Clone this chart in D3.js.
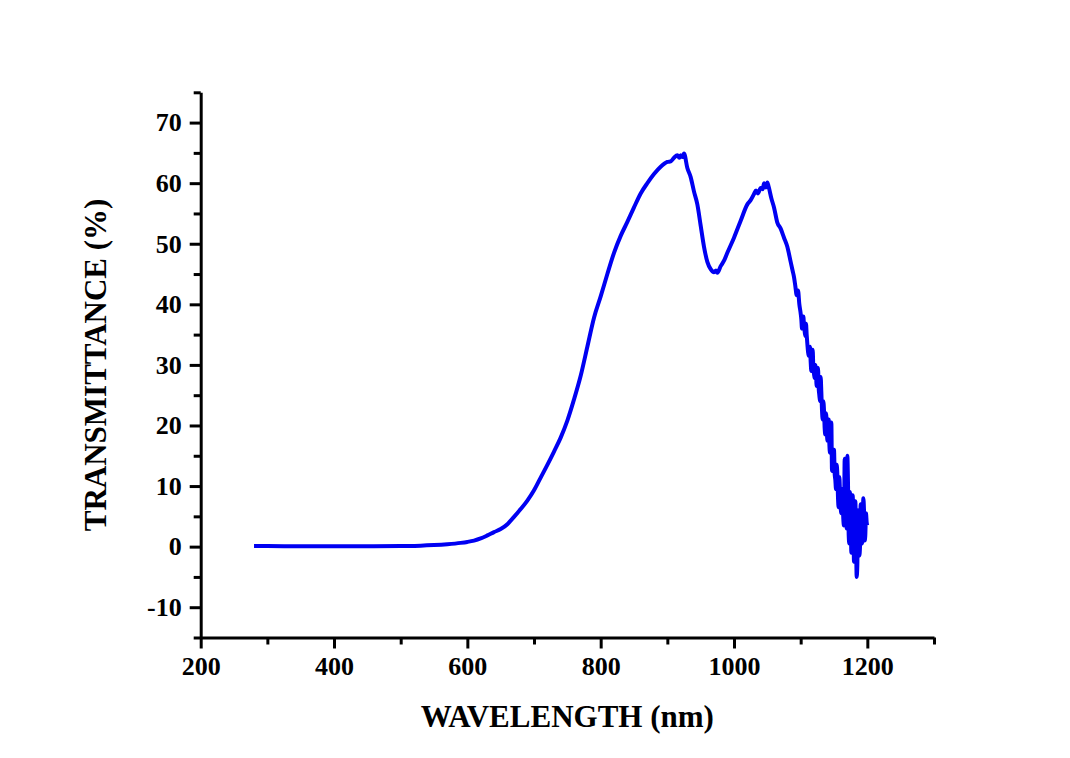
<!DOCTYPE html>
<html>
<head>
<meta charset="utf-8">
<script src="https://cdn.jsdelivr.net/npm/d3@7"></script>
<style>
  body { margin: 0; background: #fff; }
  svg { display: block; }
  text { font-family: "Liberation Serif", "Times New Roman", serif; font-weight: bold; fill: #000; }
</style>
</head>
<body>
<div id="chart"></div>
<script>
// wavelength (nm) and transmittance (%)
const wavelength = [
  280, 300, 350, 400, 450, 500, 530, 550, 570, 590, 600, 610, 620, 630, 640, 650, 660, 665, 670, 680, 690,
  700, 710, 720, 730, 740, 750, 760, 770, 780, 790, 800, 810, 820, 830, 840, 850, 860, 870, 880, 890,
  900, 905, 910, 915, 918, 920, 923, 925, 930, 935, 940, 945, 950, 955, 960, 965, 970, 973, 975, 980,
  985, 990, 1000, 1010, 1020, 1025, 1030, 1033, 1036, 1040, 1043, 1045, 1048, 1050, 1052, 1056, 1060, 1065, 1070, 1075,
  1080, 1085, 1088, 1090, 1092, 1094, 1096, 1098,
  1100, 1101, 1102, 1103, 1104, 1105, 1106, 1107, 1108, 1109, 1110, 1111, 1112, 1113, 1114, 1115, 1116, 1117, 1118, 1119,
  1120, 1121, 1122, 1123, 1124, 1125, 1126, 1127, 1128, 1129, 1130, 1131, 1132, 1133, 1134, 1135, 1136, 1137, 1138, 1139,
  1140, 1141, 1142, 1143, 1144, 1145, 1146, 1147, 1148, 1149, 1150, 1151, 1152, 1153, 1154, 1155, 1156, 1157, 1158, 1159,
  1160, 1161, 1162, 1163, 1164, 1165, 1166, 1167, 1168, 1169, 1170, 1171, 1172, 1173, 1174, 1175, 1176, 1177, 1178, 1179,
  1180, 1181, 1182, 1183, 1184, 1185, 1186, 1187, 1188, 1189, 1190, 1191, 1192, 1193, 1194, 1195, 1196, 1197, 1198, 1199,
  1200
];
const transmittance = [
  0.1, 0.1, 0.05, 0.05, 0.05, 0.1, 0.15, 0.25, 0.4, 0.62, 0.78, 1.0, 1.35, 1.85, 2.4, 2.9, 3.7, 4.3, 4.9, 6.2, 7.6,
  9.3, 11.4, 13.5, 15.7, 18.0, 20.8, 24.3, 28.2, 33.0, 37.8, 41.3, 45.0, 48.5, 51.3, 53.6, 56.0, 58.3, 60.0, 61.5, 62.7,
  63.5, 63.6, 64.2, 64.6, 64.2, 64.6, 64.3, 64.9, 62.5, 61.0, 58.6, 56.5, 53.0, 49.5, 47.0, 45.8, 45.3, 45.6, 45.2, 46.3,
  47.2, 48.5, 51.0, 53.8, 56.5, 57.2, 58.2, 58.8, 58.3, 59.2, 59.0, 60.0, 59.3, 60.1, 59.4, 57.5, 56.0, 53.5, 52.5, 51.0,
  49.5, 47.0, 45.5, 44.5, 43.0, 41.5, 42.3, 40.0,
  38.5, 37.5, 36.0, 37.2, 38.0, 36.5, 35.5, 34.8, 36.8, 35.0, 33.5, 32.2, 31.5, 32.8, 33.0, 30.5, 29.0, 31.0, 32.5, 29.5,
  28.5, 27.8, 30.0, 28.5, 26.5, 27.0, 29.5, 26.2, 25.0, 24.0, 28.0, 25.5, 22.5, 21.0, 24.0, 22.5, 19.5, 18.5, 22.0, 20.5,
  17.5, 18.0, 21.0, 17.0, 15.5, 17.5, 20.5, 12.5, 13.5, 14.5, 16.0, 12.0, 11.0, 9.5, 13.5, 12.0, 8.0, 6.5, 11.5, 9.0,
  6.5, 5.5, 9.5, 7.5, 4.5, 3.5, 14.5, 6.0, 5.0, 3.0, 15.0, 10.5, 2.0, 0.5, 9.0, 6.5, -1.0, 0.0, 8.5, 4.0,
  -2.5, 1.5, 7.5, 2.0, -5.0, -3.0, 6.0, 5.0, -1.5, 0.0, 7.0, 4.5, 0.5, 2.5, 8.0, 6.0, 1.0, 2.0, 5.5, 4.0,
  3.5
];
const xMajorTicks = [200, 400, 600, 800, 1000, 1200];
const xMinorTicks = [300, 500, 700, 900, 1100, 1300];
const yMajorTicks = [-10, 0, 10, 20, 30, 40, 50, 60, 70];
const yMinorTicks = [-15, -5, 5, 15, 25, 35, 45, 55, 65, 75];

const data = wavelength.map((w, i) => ({ w, t: transmittance[i] }));

const width = 1070, height = 758;
const svg = d3.select('#chart').append('svg')
  .attr('width', width).attr('height', height);

svg.append('rect').attr('width', width).attr('height', height).attr('fill', '#fff');

const x = d3.scaleLinear().domain([200, 1300]).range([200.7, 934]);
const y = d3.scaleLinear().domain([-15, 75]).range([637.5, 92.3]);

const line = d3.line().curve(d3.curveMonotoneX).x(d => x(d.w)).y(d => y(d.t));

svg.append('path')
  .datum(data)
  .attr('fill', 'none')
  .attr('stroke', '#0000f2')
  .attr('stroke-width', 4)
  .attr('stroke-linejoin', 'round')
  .attr('d', line);

function styleAxis(g) {
  g.selectAll('.domain').attr('stroke', '#000').attr('stroke-width', 3);
  g.selectAll('.tick line').attr('stroke', '#000').attr('stroke-width', 3);
}

const plain = d => String(d);

// minor ticks
svg.append('g')
  .attr('transform', `translate(0,${y(-15)})`)
  .call(d3.axisBottom(x).tickValues(xMinorTicks).tickSize(7).tickFormat(''))
  .call(styleAxis)
  .call(g => g.select('.domain').remove());

svg.append('g')
  .attr('transform', `translate(${x(200)},0)`)
  .call(d3.axisLeft(y).tickValues(yMinorTicks).tickSize(7).tickFormat(''))
  .call(styleAxis)
  .call(g => g.select('.domain').remove());

// major ticks + domains
svg.append('g')
  .attr('transform', `translate(0,${y(-15)})`)
  .call(d3.axisBottom(x).tickValues(xMajorTicks).tickSize(11).tickSizeOuter(0).tickPadding(8).tickFormat(plain))
  .call(styleAxis)
  .call(g => g.selectAll('.tick text').attr('font-size', 26));

svg.append('g')
  .attr('transform', `translate(${x(200)},0)`)
  .call(d3.axisLeft(y).tickValues(yMajorTicks).tickSize(11).tickSizeOuter(0).tickPadding(8).tickFormat(plain))
  .call(styleAxis)
  .call(g => g.selectAll('.tick text').attr('font-size', 26));

svg.selectAll('.tick text').style('font-family', '"Liberation Serif", serif').style('font-weight', 'bold');

svg.append('text')
  .attr('x', (x(200) + x(1300)) / 2)
  .attr('y', 727)
  .attr('text-anchor', 'middle')
  .attr('font-size', 31)
  .text('WAVELENGTH (nm)');

svg.append('text')
  .attr('transform', `translate(106,${(y(-15) + y(75)) / 2}) rotate(-90)`)
  .attr('text-anchor', 'middle')
  .attr('font-size', 31)
  .text('TRANSMITTANCE (%)');
</script>
</body>
</html>
